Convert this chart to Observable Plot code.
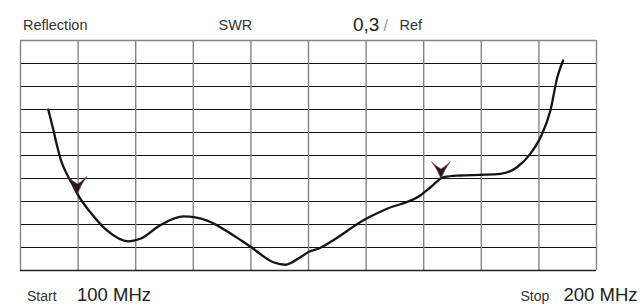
<!DOCTYPE html>
<html>
<head>
<meta charset="utf-8">
<script src="https://cdn.jsdelivr.net/npm/d3@7"></script>
<script src="https://cdn.jsdelivr.net/npm/@observablehq/plot@0.6"></script>
<style>
  html, body { margin: 0; padding: 0; background: #fff; }
  #chart { width: 642px; height: 305px; }
  svg { display: block; }
</style>
</head>
<body>
<div id="chart"></div>
<script>
// Frequency sweep (MHz) and reflection trace (in grid divisions, 0 = bottom, 10 = top)
const freqMHz = [104.83, 105.65, 106.34, 107.04, 107.91, 108.95, 109.87, 112.1, 115.0, 118.7, 120.8, 124.2, 128.3, 132.4, 137.0, 139.9, 143.9, 146.0, 148.6, 150.0, 152.0, 153.8, 160.0, 163.6, 169.4, 171.2, 173.5, 176.4, 179.8, 183.3, 186.2, 188.5, 190.3, 192.0, 193.2, 194.2];
const traceDiv = [6.99, 6.17, 5.43, 4.78, 4.26, 3.78, 3.33, 2.54, 1.74, 1.27, 1.38, 1.96, 2.35, 2.17, 1.52, 1.04, 0.36, 0.25, 0.58, 0.80, 0.98, 1.24, 2.25, 2.68, 3.26, 3.62, 4.06, 4.13, 4.16, 4.20, 4.49, 5.07, 5.80, 6.96, 8.40, 9.13];

// Markers
const markerMHz = [109.9, 173.0];
const markerDiv = [3.33, 3.98];

// Grid
const xGrid = [100, 110, 120, 130, 140, 150, 160, 170, 180, 190, 200];
const yInner = [1, 2, 3, 4, 5, 6, 7, 8, 9];

// Labels
const topLabels = ["Reflection", "SWR", "0,3", "/", "Ref"];
const startLabel = ["Start", "100 MHz"];
const stopLabel = ["Stop", "200 MHz"];

const trace = freqMHz.map((f, i) => ({f, v: traceDiv[i]}));
const markers = markerMHz.map((f, i) => ({f, v: markerDiv[i]}));

const arrow = {
  draw(ctx) {
    ctx.moveTo(0, 0);
    ctx.quadraticCurveTo(-3, -9, -9.5, -17.5);
    ctx.quadraticCurveTo(-4, -12, 0, -10);
    ctx.quadraticCurveTo(4, -12, 9.5, -17.5);
    ctx.quadraticCurveTo(3, -9, 0, 0);
    ctx.closePath();
  }
};

const font = "'Liberation Sans', Arial, sans-serif";

const chart = Plot.plot({
  width: 642,
  height: 305,
  marginLeft: 20,
  marginRight: 46,
  marginTop: 40,
  marginBottom: 35,
  style: {fontFamily: font, background: "#fff", overflow: "visible"},
  x: {domain: [100, 200], axis: null},
  y: {domain: [0, 10], axis: null},
  marks: [
    Plot.ruleY(yInner, {stroke: "#111", strokeWidth: 1}),
    Plot.ruleX(xGrid, {stroke: "#858585", strokeWidth: 1.4}),
    Plot.ruleY([10], {stroke: "#858585", strokeWidth: 1.4}),
    Plot.ruleY([0], {stroke: "#222", strokeWidth: 1.5}),
    Plot.line(trace, {x: "f", y: "v", curve: "monotone-x", stroke: "#151515", strokeWidth: 2.3}),
    Plot.dot(markers, {x: "f", y: "v", symbol: arrow, r: 5, fill: "#2a161b", stroke: "#6a3038", strokeWidth: 0.5}),
    // top labels
    Plot.text([topLabels[0]], {frameAnchor: "top-left", dx: 2.5, dy: -10.5, lineAnchor: "bottom", textAnchor: "start", fontSize: 14.5, fill: "#333"}),
    Plot.text([topLabels[1]], {frameAnchor: "top-left", dx: 198, dy: -10.5, lineAnchor: "bottom", textAnchor: "start", fontSize: 14.5, fill: "#333"}),
    Plot.text([topLabels[2]], {frameAnchor: "top-left", dx: 332.5, dy: -9.5, lineAnchor: "bottom", textAnchor: "start", fontSize: 19, fill: "#222"}),
    Plot.text([topLabels[3]], {frameAnchor: "top-left", dx: 363, dy: -10, lineAnchor: "bottom", textAnchor: "start", fontSize: 16, fill: "#999"}),
    Plot.text([topLabels[4]], {frameAnchor: "top-left", dx: 379, dy: -10.5, lineAnchor: "bottom", textAnchor: "start", fontSize: 14.5, fill: "#333"}),
    // bottom labels
    Plot.text([startLabel[0]], {frameAnchor: "bottom-left", dx: 6.5, dy: 30, lineAnchor: "bottom", textAnchor: "start", fontSize: 14, fill: "#333", letterSpacing: "1px"}),
    Plot.text([startLabel[1]], {frameAnchor: "bottom-left", dx: 56.5, dy: 30, lineAnchor: "bottom", textAnchor: "start", fontSize: 18.5, fill: "#222"}),
    Plot.text([stopLabel[0]], {frameAnchor: "bottom-right", dx: -76, dy: 30, lineAnchor: "bottom", textAnchor: "start", fontSize: 14, fill: "#333"}),
    Plot.text([stopLabel[1]], {frameAnchor: "bottom-right", dx: 41, dy: 30, lineAnchor: "bottom", textAnchor: "end", fontSize: 18.5, fill: "#222"})
  ]
});
document.getElementById("chart").appendChild(chart);
</script>
</body>
</html>
